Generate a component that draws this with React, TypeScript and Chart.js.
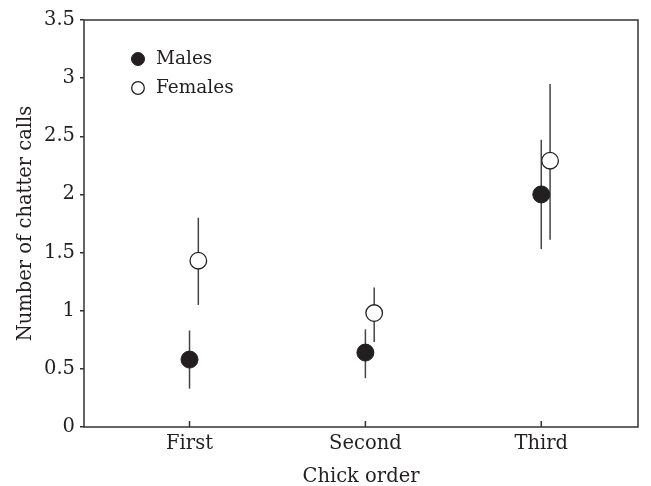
import React, { useEffect, useRef } from "react";
import { Chart, registerables } from "chart.js";

Chart.register(...registerables);

const categories = ["First", "Second", "Third"];
const categoryPositions = [1, 2, 3];
const femaleOffset = 0.05;

const maleMeans = [0.58, 0.64, 2.0];
const maleLow = [0.33, 0.42, 1.53];
const maleHigh = [0.83, 0.84, 2.47];

const femaleMeans = [1.43, 0.98, 2.29];
const femaleLow = [1.05, 0.73, 1.61];
const femaleHigh = [1.8, 1.2, 2.95];

const yTicks = [0, 0.5, 1, 1.5, 2, 2.5, 3, 3.5];
const yTickLabels = ["0", "0.5", "1", "1.5", "2", "2.5", "3", "3.5"];

const FONT = "'DejaVu Serif', serif";
const INK = "#231f20";
const FS = 19.5;

const errorBarPlugin = {
  id: "errorBars",
  beforeDatasetsDraw(chart: any) {
    const ctx = chart.ctx;
    const xs = chart.scales.x;
    const ys = chart.scales.y;
    ctx.save();
    ctx.strokeStyle = "#444";
    ctx.lineWidth = 1.5;
    chart.data.datasets.forEach((ds: any) => {
      ds.data.forEach((p: any) => {
        const px = xs.getPixelForValue(p.x);
        ctx.beginPath();
        ctx.moveTo(px, ys.getPixelForValue(p.lo));
        ctx.lineTo(px, ys.getPixelForValue(p.hi));
        ctx.stroke();
      });
    });
    ctx.restore();
  },
  afterDraw(chart: any) {
    const ctx = chart.ctx;
    const a = chart.chartArea;
    const xs = chart.scales.x;
    ctx.save();
    ctx.strokeStyle = "#333";
    ctx.lineWidth = 1.5;
    ctx.strokeRect(a.left, a.top, a.right - a.left, a.bottom - a.top);
    xs.ticks.forEach((t: any) => {
      const px = xs.getPixelForValue(t.value);
      ctx.beginPath();
      ctx.moveTo(px, a.bottom);
      ctx.lineTo(px, a.bottom - 6);
      ctx.stroke();
    });
    const items = chart.data.datasets;
    items.forEach((ds: any, i: number) => {
      const cx = 138;
      const cy = 59 + i * 29;
      ctx.beginPath();
      ctx.arc(cx, cy, ds.pointRadius - 2, 0, Math.PI * 2);
      ctx.fillStyle = ds.backgroundColor;
      ctx.fill();
      ctx.lineWidth = ds.borderWidth;
      ctx.strokeStyle = ds.borderColor;
      ctx.stroke();
      ctx.fillStyle = INK;
      ctx.font = `18.5px ${FONT}`;
      ctx.textBaseline = "middle";
      ctx.textAlign = "left";
      ctx.fillText(ds.label, 156, cy);
    });
    ctx.restore();
  },
};

export default function App() {
  const ref = useRef<HTMLCanvasElement>(null);
  useEffect(() => {
    document.body.style.margin = "0";
    if (!ref.current) return;
    const males = categoryPositions.map((x, i) => ({
      x,
      y: maleMeans[i],
      lo: maleLow[i],
      hi: maleHigh[i],
    }));
    const females = categoryPositions.map((x, i) => ({
      x: x + femaleOffset,
      y: femaleMeans[i],
      lo: femaleLow[i],
      hi: femaleHigh[i],
    }));
    const chart = new Chart(ref.current, {
      type: "scatter",
      data: {
        datasets: [
          {
            label: "Males",
            data: males,
            backgroundColor: INK,
            borderColor: INK,
            borderWidth: 1,
            pointRadius: 8.5,
          },
          {
            label: "Females",
            data: females,
            backgroundColor: "#ffffff",
            borderColor: INK,
            borderWidth: 1.3,
            pointRadius: 8.3,
          },
        ],
      },
      options: {
        responsive: false,
        animation: false,
        layout: { padding: { left: 0, top: 20, right: 13, bottom: 0 } },
        plugins: {
          legend: { display: false },
          tooltip: { enabled: false },
        },
        scales: {
          x: {
            type: "linear",
            min: 0.4,
            max: 3.55,
            afterBuildTicks: (scale: any) => {
              scale.ticks = categoryPositions.map((v) => ({ value: v }));
            },
            afterFit: (scale: any) => {
              scale.height = 59;
            },
            grid: { display: true, drawOnChartArea: false, drawTicks: false },
            border: { display: false },
            ticks: {
              padding: 5,
              color: INK,
              font: { family: FONT, size: FS },
              callback: (v: any) => {
                const idx = categoryPositions.indexOf(Number(v));
                return idx >= 0 ? categories[idx] : "";
              },
            },
            title: {
              display: true,
              text: "Chick order",
              color: INK,
              font: { family: FONT, size: FS },
              padding: { top: 0, bottom: -3 },
            },
          },
          y: {
            min: 0,
            max: 3.5,
            afterBuildTicks: (scale: any) => {
              scale.ticks = yTicks.map((v) => ({ value: v }));
            },
            afterFit: (scale: any) => {
              scale.width = 84;
            },
            grid: {
              drawOnChartArea: false,
              tickLength: 4,
              color: "#333",
              lineWidth: 1.5,
            },
            border: { display: false },
            ticks: {
              padding: 5,
              color: INK,
              font: { family: FONT, size: FS },
              callback: (v: any) => {
                const idx = yTicks.indexOf(Number(v));
                return idx >= 0 ? yTickLabels[idx] : "";
              },
            },
            title: {
              display: true,
              text: "Number of chatter calls",
              color: INK,
              font: { family: FONT, size: FS },
              padding: { top: 14, bottom: 0 },
            },
          },
        },
      },
      plugins: [errorBarPlugin],
    });
    return () => chart.destroy();
  }, []);
  return (
    <div style={{ position: "absolute", left: 0, top: 0, width: 651, height: 486 }}>
      <canvas ref={ref} width={651} height={486} />
    </div>
  );
}
